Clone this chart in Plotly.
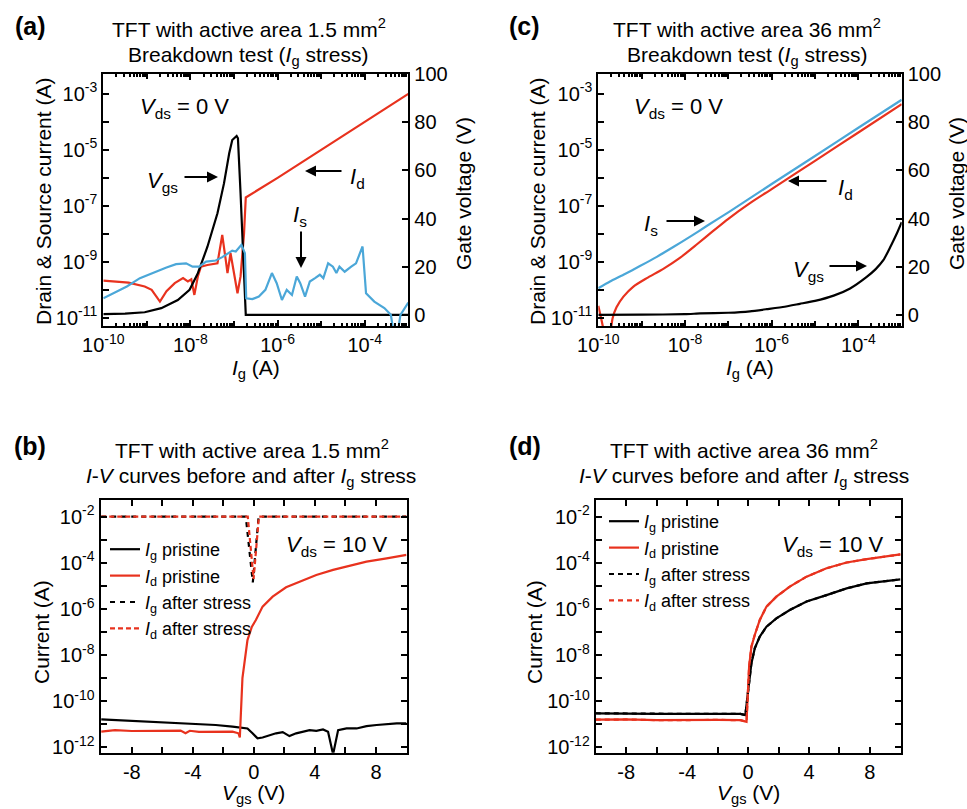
import numpy as np
import plotly.graph_objects as go

W, H = 967, 809
RED = "#E8321E"
BLUE = "#4BA7D8"
BLACK = "#000000"
FONT = "Liberation Sans, Arial, sans-serif"

# ---------------- Panel (a): 1.5 mm^2, breakdown test (log10 values) ----------------
a_vgs_ig_exp = [-10.0, -9.5, -9.05, -8.67, -8.29, -8.02, -7.83, -7.61, -7.38, -7.23, -7.11,
                -7.04, -6.94, -6.91, -6.85, -6.79, -6.73, -5.0, -3.0]
a_vgs_volt = [0.3, 0.5, 1.1, 2.8, 6.2, 10.4, 17.3, 28.3, 42.2, 54.6, 67.1,
              72.6, 74.3, 73.3, 50.5, 22.8, 0.0, 0.0, 0.0]

a_id_ig_exp = [-10.0, -9.42, -9.05, -8.89, -8.70, -8.55, -8.36, -8.17, -8.06, -7.98, -7.91,
               -7.83, -7.76, -7.61, -7.38, -7.27, -7.19, -7.15, -7.08, -7.00, -6.92, -6.85,
               -6.77, -6.73, -6.0, -5.0, -4.0, -3.0]
a_id_exp = [-9.67, -9.74, -9.88, -10.0, -10.42, -10.05, -9.76, -9.58, -9.70, -9.62, -10.18,
            -9.52, -9.17, -9.11, -9.05, -8.04, -8.93, -9.40, -8.69, -9.40, -10.12, -9.52,
            -7.98, -6.70, -6.0, -5.0, -4.0, -3.0]

a_is_ig_exp = [-10.0, -9.77, -9.46, -9.16, -8.86, -8.55, -8.33, -8.10, -7.95, -7.80, -7.64,
               -7.42, -7.27, -7.11, -7.04, -6.96, -6.89, -6.83, -6.75, -6.72, -6.58, -6.43,
               -6.28, -6.13, -6.02, -5.90, -5.79, -5.67, -5.56, -5.48, -5.37, -5.26, -5.14,
               -5.03, -4.95, -4.84, -4.73, -4.65, -4.58, -4.46, -4.31, -4.20, -4.05, -3.97,
               -3.78, -3.55, -3.40, -3.33, -3.25, -3.18, -3.0]
a_is_exp = [-10.30, -10.12, -9.88, -9.58, -9.38, -9.20, -9.08, -9.05, -9.17, -9.17, -8.99,
            -8.95, -8.83, -8.69, -8.60, -8.63, -8.51, -8.39, -8.69, -10.30, -10.33, -10.24,
            -10.0, -9.40, -9.76, -10.36, -10.0, -10.18, -9.52, -9.76, -10.24, -9.70, -9.58,
            -9.46, -9.58, -9.05, -9.17, -9.40, -9.17, -9.35, -9.17, -9.05, -8.45, -10.12,
            -10.42, -10.65, -10.89, -11.6, -11.6, -10.89, -10.45]

# ---------------- Panel (c): 36 mm^2, breakdown test ----------------
c_vgs_ig_exp = [-10.0, -9.0, -8.0, -7.65, -7.0, -6.5, -6.11, -5.7, -5.35, -5.0, -4.57,
                -4.19, -3.80, -3.60, -3.42, -3.26, -3.11, -3.0]
c_vgs_volt = [0.0, 0.1, 0.3, 0.6, 0.9, 1.5, 2.4, 3.4, 4.6, 5.8, 8.0,
              11.0, 15.9, 19.0, 22.8, 28.3, 33.9, 38.5]

c_is_ig_exp = [-10.0, -9.73, -9.42, -9.04, -8.65, -8.27, -7.88, -7.5, -7.0, -6.0, -5.0,
               -4.0, -3.0]
c_is_exp = [-9.94, -9.70, -9.46, -9.15, -8.82, -8.47, -8.10, -7.72, -7.23, -6.22, -5.22,
            -4.21, -3.21]

c_id_ig_exp = [-10.0, -9.88, -9.80, -9.71, -9.67, -9.58, -9.42, -9.19, -8.88, -8.50, -8.11,
               -7.73, -7.37, -7.0, -6.5, -6.0, -5.0, -4.0, -3.0]
c_id_exp = [-10.57, -11.43, -12.5, -11.43, -11.01, -10.62, -10.24, -9.88, -9.58, -9.25, -8.85,
            -8.38, -7.92, -7.46, -6.90, -6.40, -5.39, -4.38, -3.37]

# ---------------- Panel (b): 1.5 mm^2, I-V curves ----------------
b_ig_vgs = [-10.0, -9.1, -8.0, -6.9, -5.8, -4.7, -3.6, -2.5, -1.4, -0.86, -0.42, -0.09, 0.24,
            0.57, 1.01, 1.45, 1.89, 2.33, 2.77, 3.21, 3.65, 4.09, 4.53, 4.86, 5.19, 5.52, 6.07,
            6.73, 7.38, 8.04, 8.70, 9.36, 10.0]
b_ig_exp = [-10.79, -10.82, -10.84, -10.89, -10.93, -10.96, -10.99, -11.03, -11.10, -11.15,
            -11.18, -11.39, -11.61, -11.57, -11.47, -11.39, -11.34, -11.51, -11.39, -11.32,
            -11.25, -11.28, -11.22, -11.32, -12.3, -11.25, -11.18, -11.18, -11.08, -11.03,
            -10.99, -10.96, -10.96]

b_id_vgs = [-10.0, -9.1, -8.0, -6.9, -5.8, -4.8, -4.48, -4.2, -3.6, -2.5, -1.4, -1.01, -0.92,
            -0.75, -0.53, -0.42, -0.13, 0.13, 0.57, 1.23, 2.11, 2.99, 4.09, 5.19, 6.29, 7.38,
            8.70, 10.0]
b_id_exp = [-11.32, -11.25, -11.29, -11.28, -11.29, -11.27, -11.39, -11.28, -11.33, -11.32,
            -11.32, -11.39, -11.57, -9.0, -8.0, -7.35, -6.77, -6.48, -5.90, -5.47, -5.06,
            -4.82, -4.53, -4.31, -4.12, -3.95, -3.81, -3.66]

b_ig_after_vgs = [-10.0, -0.53, -0.07, 0.31, 10.0]
b_ig_after_exp = [-2.0, -2.0, -4.85, -2.0, -2.0]
b_id_after_vgs = [-10.0, -0.40, -0.02, 0.33, 10.0]
b_id_after_exp = [-2.0, -2.0, -4.70, -2.0, -2.0]

# ---------------- Panel (d): 36 mm^2, I-V curves ----------------
d_ig_vgs = [-10.0, -8.0, -6.0, -4.0, -2.0, -0.5, -0.18, 0.07, 0.22, 0.44, 0.77, 1.21, 1.86,
            2.74, 3.84, 5.15, 6.47, 7.79, 10.0]
d_ig_exp = [-10.53, -10.55, -10.55, -10.55, -10.55, -10.55, -10.60, -9.23, -8.36, -7.71,
            -7.20, -6.77, -6.41, -6.05, -5.68, -5.40, -5.11, -4.89, -4.72]
d_id_vgs = [-10.0, -8.0, -6.0, -4.0, -2.0, -0.5, -0.1, 0.07, 0.22, 0.44, 0.77, 1.21, 1.86,
            2.74, 3.84, 5.15, 6.47, 7.79, 10.0]
d_id_exp = [-10.80, -10.79, -10.82, -10.80, -10.81, -10.82, -10.89, -8.50, -7.64, -7.13,
            -6.48, -5.90, -5.47, -5.03, -4.60, -4.24, -3.99, -3.84, -3.64]
d_ig_after_vgs = d_ig_vgs
d_ig_after_exp = [-10.52, -10.54, -10.55, -10.55, -10.55, -10.55, -10.60, -9.23, -8.36, -7.71,
                  -7.20, -6.77, -6.41, -6.05, -5.68, -5.40, -5.11, -4.89, -4.72]
d_id_after_vgs = d_id_vgs
d_id_after_exp = [-10.80, -10.79, -10.82, -10.80, -10.81, -10.82, -10.89, -8.50, -7.64, -7.13,
                  -6.48, -5.90, -5.47, -5.03, -4.60, -4.24, -3.99, -3.84, -3.64]

# ---------------- Tick labels ----------------
ig_label_exps = [-10, -8, -6, -4]
ig_label_text = ["10<sup>-10</sup>", "10<sup>-8</sup>", "10<sup>-6</sup>", "10<sup>-4</sup>"]
ig_all_exps = [-10, -9, -8, -7, -6, -5, -4, -3]
ig_decades = [-10, -9, -8, -7, -6, -5, -4]
ig_minor_mult = [2, 3, 4, 5, 6, 7, 8, 9]
cur_label_exps = [-11, -9, -7, -5, -3]
cur_label_text = ["10<sup>-11</sup>", "10<sup>-9</sup>", "10<sup>-7</sup>", "10<sup>-5</sup>",
                  "10<sup>-3</sup>"]
cur_all_exps = [-11, -10, -9, -8, -7, -6, -5, -4, -3]
volt_ticks = [0, 20, 40, 60, 80, 100]
iv_label_exps = [-12, -10, -8, -6, -4, -2]
iv_label_text = ["10<sup>-12</sup>", "10<sup>-10</sup>", "10<sup>-8</sup>", "10<sup>-6</sup>",
                 "10<sup>-4</sup>", "10<sup>-2</sup>"]
iv_all_exps = [-12, -11, -10, -9, -8, -7, -6, -5, -4, -3, -2]
vgs_label_ticks = [-8, -4, 0, 4, 8]
vgs_label_text = ["-8", "-4", "0", "4", "8"]
vgs_all_ticks = [-10, -8, -6, -4, -2, 0, 2, 4, 6, 8, 10]


def p10(v):
    return [float(10.0 ** x) for x in v]


def mark_log(exps):
    # tick-mark positions (nudged by a negligible amount so they are kept as separate marks)
    return [float(10.0 ** (x + 1e-4)) for x in exps]


def mark_lin(vals):
    return [float(v) + 1e-3 for v in vals]


fig = go.Figure()
LW = 2.2

# (a)
fig.add_trace(go.Scatter(x=p10(a_id_ig_exp), y=p10(a_id_exp), mode="lines",
                         line=dict(color=RED, width=LW), xaxis="x", yaxis="y", showlegend=False))
fig.add_trace(go.Scatter(x=p10(a_is_ig_exp), y=p10(a_is_exp), mode="lines",
                         line=dict(color=BLUE, width=LW), xaxis="x5", yaxis="y", showlegend=False))
fig.add_trace(go.Scatter(x=p10(a_vgs_ig_exp), y=a_vgs_volt, mode="lines",
                         line=dict(color=BLACK, width=LW), xaxis="x", yaxis="y2", showlegend=False))
# (c)
fig.add_trace(go.Scatter(x=p10(c_id_ig_exp), y=p10(c_id_exp), mode="lines",
                         line=dict(color=RED, width=LW, shape="spline", smoothing=0.6),
                         xaxis="x2", yaxis="y3", showlegend=False))
fig.add_trace(go.Scatter(x=p10(c_is_ig_exp), y=p10(c_is_exp), mode="lines",
                         line=dict(color=BLUE, width=LW, shape="spline", smoothing=0.6),
                         xaxis="x6", yaxis="y3", showlegend=False))
fig.add_trace(go.Scatter(x=p10(c_vgs_ig_exp), y=c_vgs_volt, mode="lines",
                         line=dict(color=BLACK, width=LW, shape="spline", smoothing=0.5),
                         xaxis="x2", yaxis="y4", showlegend=False))

ig_name = "<i>I</i><sub>g</sub>"
id_name = "<i>I</i><sub>d</sub>"
# (b)
fig.add_trace(go.Scatter(x=b_ig_vgs, y=p10(b_ig_exp), mode="lines", name=ig_name + " pristine",
                         line=dict(color=BLACK, width=LW), xaxis="x3", yaxis="y5", legend="legend"))
fig.add_trace(go.Scatter(x=b_id_vgs, y=p10(b_id_exp), mode="lines", name=id_name + " pristine",
                         line=dict(color=RED, width=LW), xaxis="x3", yaxis="y5", legend="legend"))
fig.add_trace(go.Scatter(x=b_ig_after_vgs, y=p10(b_ig_after_exp), mode="lines",
                         name=ig_name + " after stress",
                         line=dict(color=BLACK, width=LW, dash="5px,5px"),
                         xaxis="x3", yaxis="y5", legend="legend"))
fig.add_trace(go.Scatter(x=b_id_after_vgs, y=p10(b_id_after_exp), mode="lines",
                         name=id_name + " after stress",
                         line=dict(color=RED, width=LW, dash="5px,3px"),
                         xaxis="x3", yaxis="y5", legend="legend"))
# (d)
fig.add_trace(go.Scatter(x=d_ig_vgs, y=p10(d_ig_exp), mode="lines", name=ig_name + " pristine",
                         line=dict(color=BLACK, width=LW), xaxis="x4", yaxis="y6", legend="legend2"))
fig.add_trace(go.Scatter(x=d_id_vgs, y=p10(d_id_exp), mode="lines", name=id_name + " pristine",
                         line=dict(color=RED, width=LW), xaxis="x4", yaxis="y6", legend="legend2"))
fig.add_trace(go.Scatter(x=d_ig_after_vgs, y=p10(d_ig_after_exp), mode="lines",
                         name=ig_name + " after stress",
                         line=dict(color=BLACK, width=LW, dash="5px,4px"),
                         xaxis="x4", yaxis="y6", legend="legend2"))
fig.add_trace(go.Scatter(x=d_id_after_vgs, y=p10(d_id_after_exp), mode="lines",
                         name=id_name + " after stress",
                         line=dict(color=RED, width=LW, dash="5px,4px"),
                         xaxis="x4", yaxis="y6", legend="legend2"))


def xd(l, r):
    return [l / W, r / W]


def yd(top, bottom):
    return [1 - bottom / H, 1 - top / H]


TL, TW = 6, 2
common = dict(showline=True, linecolor="black", linewidth=2, showgrid=False, zeroline=False,
              automargin=False, ticks="inside", ticklen=TL, tickwidth=TW, tickcolor="black")


def marks(vals, length=TL):
    return dict(tickmode="array", tickvals=vals, ticks="inside", ticklen=length,
                tickwidth=TW, tickcolor="black", showgrid=False)


ig_small_vals = [m * 10.0 ** e for e in ig_decades for m in ig_minor_mult]


def ig_axis(domain, anchor):
    return dict(domain=domain, anchor=anchor, type="log", range=[-10, -3],
                tickmode="array", tickvals=p10(ig_label_exps), ticktext=ig_label_text,
                mirror="ticks", minor=marks(mark_log(ig_all_exps), 5), **common)


def ig_small_axis(overlay, anchor):
    return dict(overlaying=overlay, anchor=anchor, type="log", range=[-10, -3],
                showline=True, linecolor="black", linewidth=2, mirror="ticks",
                tickmode="array", tickvals=ig_small_vals, ticks="inside", ticklen=3,
                tickwidth=1.5, tickcolor="black", showticklabels=False, showgrid=False,
                zeroline=False, automargin=False)


def cur_axis(domain, anchor):
    return dict(domain=domain, anchor=anchor, type="log", range=[-11.29, -2.29],
                tickmode="array", tickvals=p10(cur_label_exps), ticktext=cur_label_text,
                minor=marks(mark_log(cur_all_exps)), mirror=False, **common)


def volt_axis(overlay, anchor):
    return dict(overlaying=overlay, anchor=anchor, side="right", range=[-4.6, 100],
                tickmode="array", tickvals=volt_ticks, minor=marks(mark_lin(volt_ticks)),
                mirror=False, **common)


def iv_y(domain, anchor):
    return dict(domain=domain, anchor=anchor, type="log", range=[-12.23, -1.28],
                tickmode="array", tickvals=p10(iv_label_exps), ticktext=iv_label_text,
                minor=marks(mark_log(iv_all_exps)), mirror="ticks", **common)


def iv_x(domain, anchor, rng):
    return dict(domain=domain, anchor=anchor, range=rng, tickmode="array",
                tickvals=vgs_label_ticks, ticktext=vgs_label_text,
                minor=marks(mark_lin(vgs_all_ticks)), mirror="ticks", **common)


fig.update_layout(
    template="none",
    width=W, height=H, autosize=False,
    margin=dict(l=0, r=0, t=0, b=0, pad=0),
    paper_bgcolor="white", plot_bgcolor="white",
    font=dict(family=FONT, size=20, color="black"),
    xaxis=ig_axis(xd(103.3, 408.3), "y"),
    xaxis5=ig_small_axis("x", "y"),
    yaxis=cur_axis(yd(74, 326), "x"),
    yaxis2=volt_axis("y", "x"),
    xaxis2=ig_axis(xd(598.3, 901.7), "y3"),
    xaxis6=ig_small_axis("x2", "y3"),
    yaxis3=cur_axis(yd(74, 326), "x2"),
    yaxis4=volt_axis("y3", "x2"),
    xaxis3=iv_x(xd(100.5, 406.5), "y5", [-10.05, 10.0]),
    yaxis5=iv_y(yd(500, 752.7), "x3"),
    xaxis4=iv_x(xd(595.7, 900.7), "y6", [-10.0, 10.02]),
    yaxis6=iv_y(yd(500, 752.7), "x4"),
    legend=dict(x=105 / W, y=1 - 531 / H, xanchor="left", yanchor="top",
                font=dict(family=FONT, size=18, color="black"), bgcolor="rgba(0,0,0,0)",
                itemwidth=30, tracegroupgap=0, borderwidth=0),
    legend2=dict(x=604 / W, y=1 - 503 / H, xanchor="left", yanchor="top",
                 font=dict(family=FONT, size=18, color="black"), bgcolor="rgba(0,0,0,0)",
                 itemwidth=30, tracegroupgap=0, borderwidth=0),
)

ann = []


def text(px, py, s, size=21, angle=0, xanchor="center"):
    ann.append(dict(x=px / W, y=1 - py / H, xref="paper", yref="paper", text=s,
                    showarrow=False, textangle=angle, xanchor=xanchor, yanchor="middle",
                    font=dict(family=FONT, size=size, color="black")))


def arrow(hx, hy, tx, ty):
    ann.append(dict(x=hx / W, y=1 - hy / H, xref="paper", yref="paper", text="",
                    showarrow=True, ax=tx - hx, ay=ty - hy, arrowhead=2, arrowsize=1.1,
                    arrowwidth=2, arrowcolor="black", standoff=0, startstandoff=0))


text(30, 26, "<b>(a)</b>", size=25)
text(524, 26, "<b>(c)</b>", size=25)
text(30, 446, "<b>(b)</b>", size=25)
text(525, 446, "<b>(d)</b>", size=25)

text(249, 28, "TFT with active area 1.5 mm<sup>2</sup>")
text(248, 56, "Breakdown test (<i>I</i><sub>g</sub> stress)")
text(747, 28, "TFT with active area 36 mm<sup>2</sup>")
text(747, 56, "Breakdown test (<i>I</i><sub>g</sub> stress)")
text(252, 449, "TFT with active area 1.5 mm<sup>2</sup>")
text(251, 477, "<i>I</i>-<i>V</i> curves before and after <i>I</i><sub>g</sub> stress")
text(744, 449, "TFT with active area 36 mm<sup>2</sup>")
text(744, 477, "<i>I</i>-<i>V</i> curves before and after <i>I</i><sub>g</sub> stress")

text(44, 202, "Drain &amp; Source current (A)", angle=-90)
text(463, 194, "Gate voltage (V)", angle=-90)
text(538, 202, "Drain &amp; Source current (A)", angle=-90)
text(956, 194, "Gate voltage (V)", angle=-90)
text(256, 369, "<i>I</i><sub>g</sub> (A)")
text(750, 369, "<i>I</i><sub>g</sub> (A)")
text(41, 632, "Current (A)", angle=-90)
text(534, 632, "Current (A)", angle=-90)
text(253, 794, "<i>V</i><sub>gs</sub> (V)")
text(748, 794, "<i>V</i><sub>gs</sub> (V)")

text(184, 108, "<i>V</i><sub>ds</sub> = 0 V", size=22)
text(678, 108, "<i>V</i><sub>ds</sub> = 0 V", size=22)
text(337, 546, "<i>V</i><sub>ds</sub> = 10 V", size=22)
text(833, 546, "<i>V</i><sub>ds</sub> = 10 V", size=22)

text(162, 182, "<i>V</i><sub>gs</sub>", size=22)
text(357, 178, "<i>I</i><sub>d</sub>", size=22)
text(300, 216, "<i>I</i><sub>s</sub>", size=22)
text(651, 225, "<i>I</i><sub>s</sub>", size=22)
text(845, 189, "<i>I</i><sub>d</sub>", size=22)
text(808, 271, "<i>V</i><sub>gs</sub>", size=22)

arrow(218, 177, 183, 177)
arrow(305, 171, 343, 171)
arrow(301, 268, 301, 230)
arrow(705, 221, 665, 221)
arrow(788, 181, 828, 181)
arrow(867, 266, 828, 266)

fig.update_layout(annotations=ann)

fig.write_html("out.html", config={"displayModeBar": False},
               post_script="document.body.style.margin='0px';")
